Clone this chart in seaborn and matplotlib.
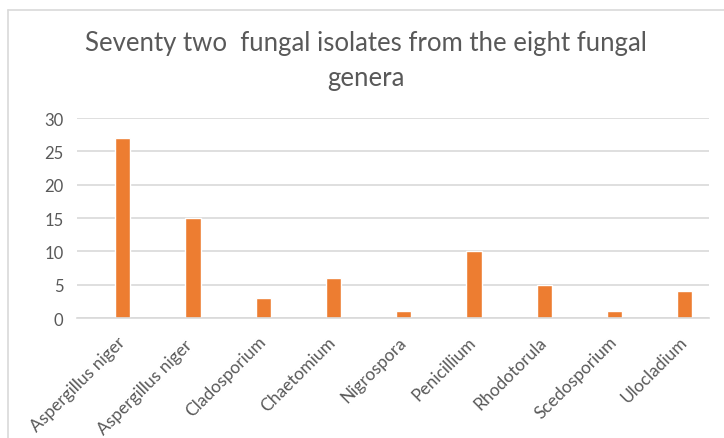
import matplotlib
matplotlib.use("Agg")
import matplotlib.pyplot as plt
from matplotlib.lines import Line2D
import matplotlib.transforms as mtransforms
import seaborn as sns
import pandas as pd

categories = ["Aspergillus niger", "Aspergillus niger ", "Cladosporium", "Chaetomium",
              "Nigrospora", "Penicillium", "Rhodotorula", "Scedosporium", "Ulocladium"]
counts = [27, 15, 3, 6, 1, 10, 5, 1, 4]
yticks = [0, 5, 10, 15, 20, 25, 30]
title = "Seventy two  fungal isolates from the eight fungal\ngenera"

sns.set_theme(style="white")
plt.rcParams['font.family'] = ['Lato', 'DejaVu Sans']

W, H = 724, 439
fig = plt.figure(figsize=(W / 100, H / 100), dpi=100)
left, right, top, bottom = 77.3, 709.3, 119, 319
ax = fig.add_axes([left / W, 1 - bottom / H, (right - left) / W, (bottom - top) / H])

df = pd.DataFrame({"genus": categories, "count": counts})
sns.barplot(data=df, x="genus", y="count", color="#ED7D31", saturation=1,
            width=0.218, ax=ax)

ax.set_xlim(-0.646, 8.35)
ax.set_ylim(0, 30)
ax.set_yticks(yticks)
ax.set_yticklabels([str(v) for v in yticks])
ax.yaxis.grid(True, color="#D9D9D9", linewidth=1.2)
ax.set_axisbelow(True)
for s in ["top", "right", "left"]:
    ax.spines[s].set_visible(False)
ax.spines["bottom"].set_color("#D9D9D9")
ax.spines["bottom"].set_linewidth(1.2)
ax.set_xlabel("")
ax.set_ylabel("")
ax.tick_params(axis="both", length=0, colors="#595959")
ax.tick_params(axis="y", pad=10, labelsize=12)
ax.tick_params(axis="x", pad=11, labelsize=12.5)
offset = mtransforms.ScaledTranslation(-6 / 100, 0, fig.dpi_scale_trans)
for lbl in ax.get_xticklabels():
    lbl.set_rotation(45)
    lbl.set_ha("right")
    lbl.set_rotation_mode("anchor")
    lbl.set_transform(lbl.get_transform() + offset)

fig.text(0.5 * (7 + W) / W, 1 - 61 / H, title, ha="center", va="center",
         fontsize=18.5, color="#595959", linespacing=1.5)

fig.add_artist(Line2D([8 / W, 1], [1 - 11 / H, 1 - 11 / H], color="#D9D9D9", lw=1.2))
fig.add_artist(Line2D([8 / W, 8 / W], [0, 1 - 11 / H], color="#D9D9D9", lw=1.2))

fig.savefig("out.png", dpi=100)
